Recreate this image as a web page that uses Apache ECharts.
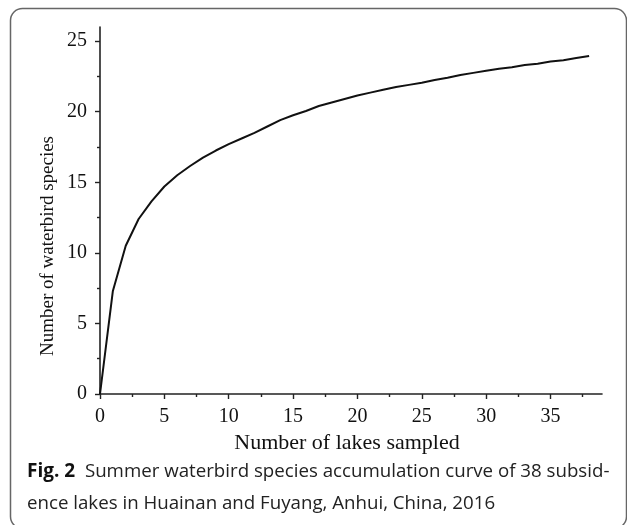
<!DOCTYPE html>
<html>
<head>
<meta charset="utf-8">
<script src="https://cdn.jsdelivr.net/npm/echarts@6/dist/echarts.min.js"></script>
<style>
  html, body { margin: 0; padding: 0; background: #fff; overflow: hidden; }
  #chart { width: 627px; height: 525px; }
</style>
</head>
<body>
<div id="chart"></div>
<script>
// number of lakes sampled (x) and accumulated species (y)
var lakes = [0, 1, 2, 3, 4, 5, 6, 7, 8, 9, 10, 11, 12, 13, 14, 15, 16, 17, 18, 19,
  20, 21, 22, 23, 24, 25, 26, 27, 28, 29, 30, 31, 32, 33, 34, 35, 36, 37, 38]
var species = [0, 7.3, 10.5, 12.4, 13.65, 14.7, 15.5, 16.15, 16.75, 17.25, 17.7, 18.1,
  18.5, 18.95, 19.4, 19.75, 20.05, 20.4, 20.65, 20.9, 21.15, 21.35, 21.55, 21.75,
  21.9, 22.05, 22.25, 22.4, 22.6, 22.75, 22.9, 23.05, 23.15, 23.3, 23.4, 23.55,
  23.65, 23.8, 23.95]

var xMajor = [0, 5, 10, 15, 20, 25, 30, 35]
var xMinor = [2.5, 7.5, 12.5, 17.5, 22.5, 27.5, 32.5, 37.5]
var yMajor = [0, 5, 10, 15, 20, 25]
var yMinor = [2.5, 7.5, 12.5, 17.5, 22.5]

var serif = '"Liberation Serif", "DejaVu Serif", serif'
var sans = '"Open Sans", "Noto Sans", sans-serif'

var chart = echarts.init(document.getElementById('chart'))

var points = lakes.map(function (x, i) {
  return [x, species[i]]
})

// main axis carries line, major ticks and labels; the twin only draws minor ticks
function axis(kind, major, minor, max, isMain) {
  var a = {
    type: 'value',
    min: 0,
    max: max,
    position: kind === 'x' ? 'bottom' : 'left',
    splitLine: { show: false },
    axisLine: { show: isMain, lineStyle: { color: '#222', width: 1.6 } },
    axisTick: {
      show: true,
      inside: false,
      length: isMain ? 5 : 3,
      customValues: isMain ? major : minor,
      lineStyle: { color: '#222', width: 1.4 }
    },
    axisLabel: {
      show: isMain,
      customValues: major,
      margin: 13,
      color: '#111',
      fontFamily: serif,
      fontSize: 20
    }
  }
  if (kind === 'x' && isMain) {
    a.name = 'Number of lakes sampled'
    a.nameLocation = 'middle'
    a.nameGap = 32
    a.nameTextStyle = { color: '#111', fontFamily: serif, fontSize: 22, padding: [0, 8, 0, 0] }
  }
  return a
}

var option = {
  animation: false,
  grid: { left: 100, right: 25, top: 27, bottom: 131 },
  xAxis: [
    axis('x', xMajor, xMinor, 39, true),
    axis('x', xMajor, xMinor, 39, false)
  ],
  yAxis: [
    axis('y', yMajor, yMinor, 26, true),
    axis('y', yMajor, yMinor, 26, false)
  ],
  series: [
    {
      type: 'line',
      data: points,
      smooth: false,
      showSymbol: false,
      lineStyle: { color: '#111', width: 2 }
    }
  ],
  graphic: [
    {
      type: 'rect',
      shape: { x: 10.5, y: 8.5, width: 616, height: 520, r: 12 },
      style: { fill: 'none', stroke: '#666', lineWidth: 1.5 }
    },
    {
      type: 'text',
      x: 48,
      y: 246,
      rotation: Math.PI / 2,
      style: {
        text: 'Number of waterbird species',
        fill: '#111',
        font: '19px ' + serif,
        align: 'center',
        verticalAlign: 'middle'
      }
    },
    {
      type: 'text',
      left: 27,
      top: 456,
      style: {
        text: '{b|Fig. 2}  Summer waterbird species accumulation curve of 38 subsid-\nence lakes in Huainan and Fuyang, Anhui, China, 2016',
        fill: '#222',
        font: '18.7px ' + sans,
        lineHeight: 32,
        rich: {
          b: {
            fontWeight: 'bold',
            fill: '#111',
            fontSize: 19,
            fontFamily: sans,
            lineHeight: 32
          }
        }
      }
    }
  ]
}

chart.setOption(option)
</script>
</body>
</html>
